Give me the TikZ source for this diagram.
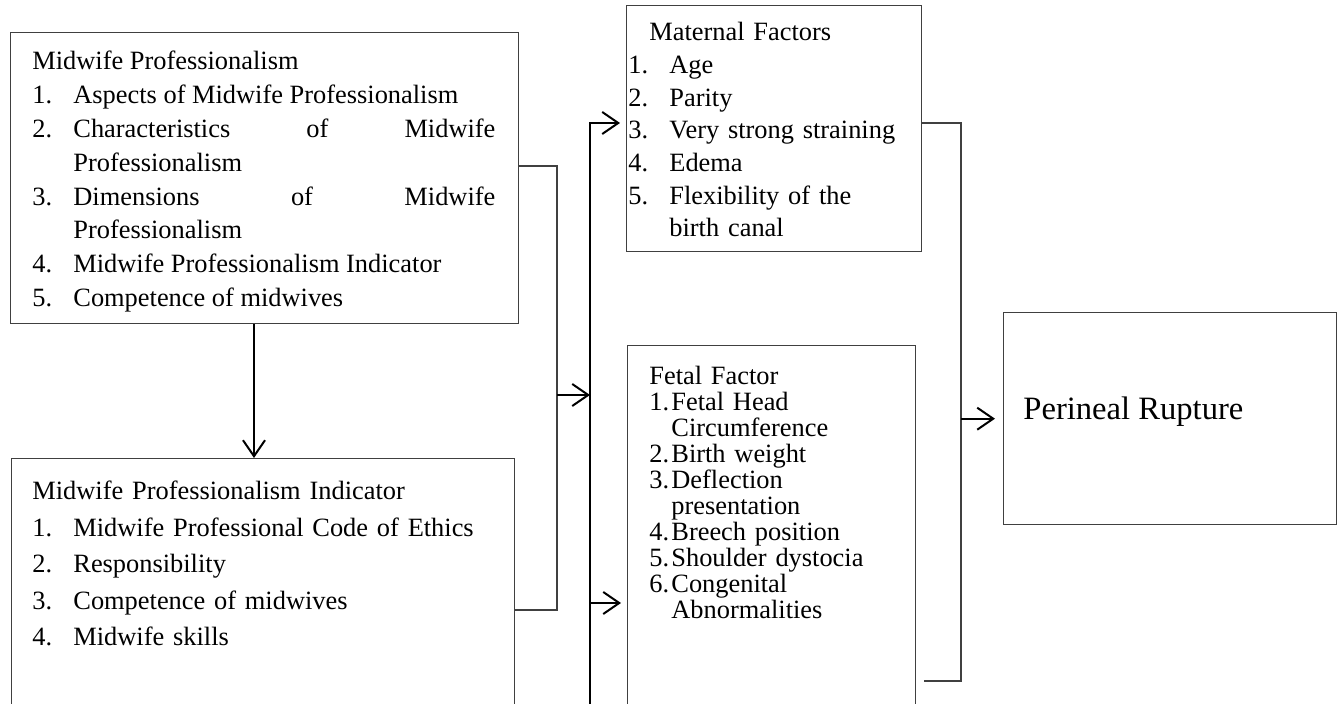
\documentclass[tikz,border=0pt]{standalone}
\usepackage{fontspec}
\setmainfont{Liberation Serif}
\usetikzlibrary{arrows.meta,positioning,calc}
\hyphenpenalty=10000
\exhyphenpenalty=10000
\tolerance=10000
\newcommand{\litem}[3]{\par\hangindent=#1\hangafter=1\noindent\makebox[#1][l]{#2}#3}

\begin{document}
\begin{tikzpicture}[x=0.5pt, y=-0.5pt,
  box/.style={draw=black!75, line width=0.7pt, inner sep=0pt, anchor=north west},
  txt/.style={inner sep=0pt, anchor=north west, font=\fontsize{13.2}{16.9}\selectfont},
  line/.style={draw=black!75, line width=0.7pt},
  arr/.style={-{Straight Barb[length=8pt,width=11pt]}, line width=1pt}]
\useasboundingbox (0,0) rectangle (1340,704);
\clip (0,0) rectangle (1340,704);

% boxes
\node[box, minimum width=254pt, minimum height=145.5pt] (prof) at (10,32) {};
\node[box, minimum width=251.5pt, minimum height=130pt] (ind) at (11,458) {};
\node[box, minimum width=147.5pt, minimum height=123pt] (mat) at (626,5) {};
\node[box, minimum width=144pt, minimum height=187.5pt] (fet) at (627,345) {};
\node[box, minimum width=166.5pt, minimum height=106pt] (rup) at (1003,312) {};

% texts
\node[txt, text width=231.5pt, align=justify] (proftext) at (32,51) {\spaceskip=.25em plus 10em minus 0pt\noindent Midwife Professionalism
  \litem{20.5pt}{1.}{Aspects of Midwife Professionalism}
  \litem{20.5pt}{2.}{Characteristics of Midwife Professionalism}
  \litem{20.5pt}{3.}{Dimensions of Midwife Professionalism}
  \litem{20.5pt}{4.}{Midwife Professionalism Indicator}
  \litem{20.5pt}{5.}{Competence of midwives}\par};
\node[txt, text width=231.5pt, font=\fontsize{13.2}{18.25}\selectfont] (indtext) at (32,481) {\raggedright\noindent Midwife Professionalism Indicator
  \litem{20.5pt}{1.}{Midwife Professional Code of Ethics}
  \litem{20.5pt}{2.}{Responsibility}
  \litem{20.5pt}{3.}{Competence of midwives}
  \litem{20.5pt}{4.}{Midwife skills}\par};
\node[txt, text width=135.5pt, font=\fontsize{13.2}{16.35}\selectfont] (mattext) at (628,22) {\raggedright\noindent\hspace*{10.5pt}Maternal Factors
  \litem{20.5pt}{1.}{Age}
  \litem{20.5pt}{2.}{Parity}
  \litem{20.5pt}{3.}{Very strong straining}
  \litem{20.5pt}{4.}{Edema}
  \litem{20.5pt}{5.}{Flexibility of the birth canal}\par};
\node[txt, text width=131pt, font=\fontsize{13.2}{13}\selectfont] (fettext) at (649,366) {\raggedright\noindent Fetal Factor
  \litem{11pt}{1.}{Fetal Head Circumference}
  \litem{11pt}{2.}{Birth weight}
  \litem{11pt}{3.}{Deflection presentation}
  \litem{11pt}{4.}{Breech position}
  \litem{11pt}{5.}{Shoulder dystocia}
  \litem{11pt}{6.}{Congenital Abnormalities}\par};
\node[anchor=west, inner sep=0pt, font=\fontsize{16.3}{20}\selectfont] (ruptext) at (1023,412) {Perineal Rupture};

% connectors
\coordinate (ja) at (557,166);
\coordinate (jb) at (557,610);
\coordinate (mid) at (557,395);
\coordinate (bt) at (590,123);
\coordinate (bb) at (590,704);
\coordinate (low) at (590,603);
\coordinate (rt) at (961,123);
\coordinate (rb) at (961,681);
\coordinate (dn) at (254,0);

\draw[arr] (prof.south -| dn) -- (ind.north -| dn);
\draw[line] (prof.east |- ja) -- (ja) -- (jb) -- (ind.east |- jb);
\draw[arr] (mid) -- (mid -| bt);
\draw[arr, shorten >=3pt] (bb) -- (bt) -- (bt -| mat.west);
\draw[arr, shorten >=3pt] (low) -- (low -| fet.west);
\draw[line] (mat.east |- rt) -- (rt) -- (rb) -- ([xshift=4pt]fet.east |- rb);
\draw[arr, shorten >=4pt] (rt |- rup.west) -- (rup.west);
\end{tikzpicture}
\end{document}
